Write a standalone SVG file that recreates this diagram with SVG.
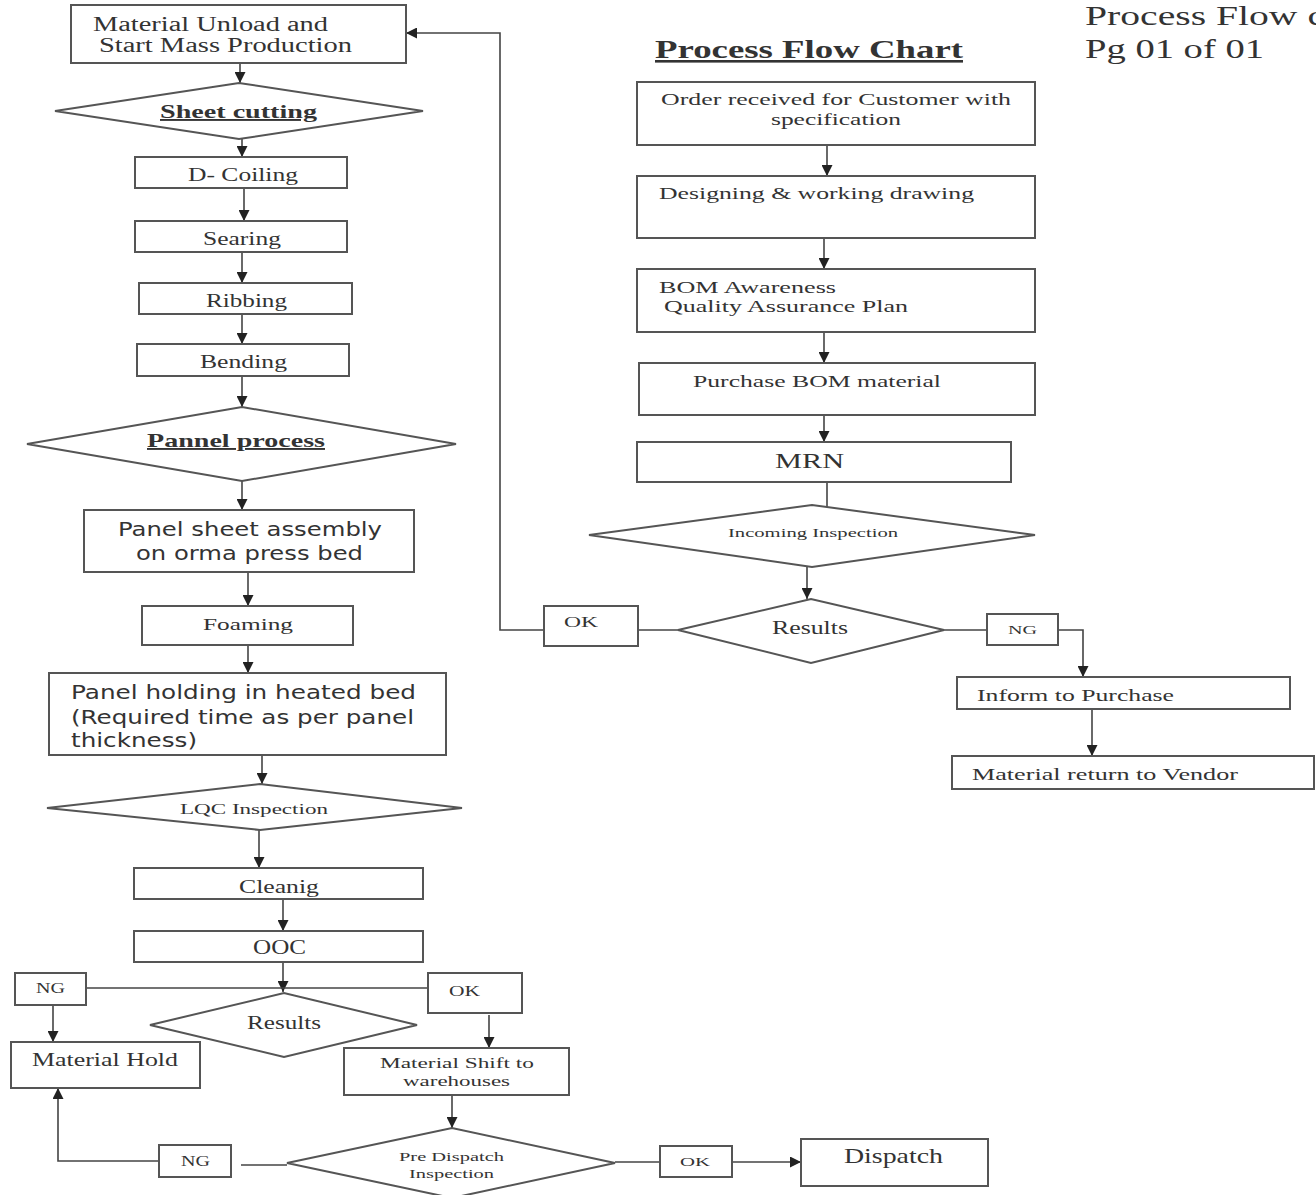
<svg xmlns="http://www.w3.org/2000/svg" width="1316" height="1195" viewBox="0 0 1316 1195">
<style>
.b{fill:#fff;stroke:#555;stroke-width:2}
.c{fill:none;stroke:#444;stroke-width:1.6}
.s{font-family:"Liberation Serif","Times New Roman",serif;fill:#333}
.v{font-family:"DejaVu Sans",Verdana,sans-serif;fill:#333}
.u{font-weight:bold;text-decoration:underline}
</style>
<defs>
<marker id="ah" markerUnits="userSpaceOnUse" markerWidth="11" markerHeight="11" refX="10" refY="5" orient="auto" viewBox="0 0 10 10">
<path d="M0,0 L10,5 L0,10 z" fill="#222"/>
</marker>
</defs>
<rect width="1316" height="1195" fill="#fff"/>

<g id="connectors">
<line class="c" x1="240" y1="63" x2="240" y2="83" marker-end="url(#ah)"/>
<line class="c" x1="242" y1="139" x2="242" y2="157" marker-end="url(#ah)"/>
<line class="c" x1="244" y1="188" x2="244" y2="221" marker-end="url(#ah)"/>
<line class="c" x1="242" y1="252" x2="242" y2="283" marker-end="url(#ah)"/>
<line class="c" x1="242" y1="314" x2="242" y2="344" marker-end="url(#ah)"/>
<line class="c" x1="242" y1="376" x2="242" y2="407" marker-end="url(#ah)"/>
<line class="c" x1="242" y1="481" x2="242" y2="510" marker-end="url(#ah)"/>
<line class="c" x1="248" y1="572" x2="248" y2="606" marker-end="url(#ah)"/>
<line class="c" x1="248" y1="645" x2="248" y2="673" marker-end="url(#ah)"/>
<line class="c" x1="262" y1="755" x2="262" y2="784" marker-end="url(#ah)"/>
<line class="c" x1="259" y1="830" x2="259" y2="868" marker-end="url(#ah)"/>
<line class="c" x1="283" y1="899" x2="283" y2="931" marker-end="url(#ah)"/>
<line class="c" x1="283" y1="962" x2="283" y2="992" marker-end="url(#ah)"/>
<line class="c" x1="86" y1="988" x2="428" y2="988"/>
<line class="c" x1="53" y1="1005" x2="53" y2="1042" marker-end="url(#ah)"/>
<line class="c" x1="489" y1="1015" x2="489" y2="1048" marker-end="url(#ah)"/>
<line class="c" x1="452" y1="1095" x2="452" y2="1128" marker-end="url(#ah)"/>
<line class="c" x1="241" y1="1165" x2="287" y2="1165"/>
<polyline class="c" points="159,1161 58,1161 58,1088" marker-end="url(#ah)"/>
<line class="c" x1="615" y1="1162" x2="660" y2="1162"/>
<line class="c" x1="732" y1="1162" x2="801" y2="1162" marker-end="url(#ah)"/>
<line class="c" x1="827" y1="145" x2="827" y2="176" marker-end="url(#ah)"/>
<line class="c" x1="824" y1="238" x2="824" y2="269" marker-end="url(#ah)"/>
<line class="c" x1="824" y1="332" x2="824" y2="363" marker-end="url(#ah)"/>
<line class="c" x1="824" y1="415" x2="824" y2="442" marker-end="url(#ah)"/>
<line class="c" x1="827" y1="482" x2="827" y2="507"/>
<line class="c" x1="807" y1="567" x2="807" y2="599" marker-end="url(#ah)"/>
<line class="c" x1="678" y1="630" x2="638" y2="630"/>
<polyline class="c" points="544,630 500,630 500,33 406,33" marker-end="url(#ah)"/>
<line class="c" x1="944" y1="630" x2="987" y2="630"/>
<polyline class="c" points="1058,630 1083,630 1083,677" marker-end="url(#ah)"/>
<line class="c" x1="1092" y1="709" x2="1092" y2="756" marker-end="url(#ah)"/>
</g>

<g id="header">
<text class="s" x="1085" y="25" font-size="27" textLength="240" lengthAdjust="spacingAndGlyphs">Process Flow c</text>
<text class="s" x="1085" y="58" font-size="27" textLength="179" lengthAdjust="spacingAndGlyphs">Pg 01 of 01</text>
<text class="s u" x="655" y="58" font-size="26" textLength="308" lengthAdjust="spacingAndGlyphs">Process Flow Chart</text>
</g>

<g id="n-unload"><rect class="b" x="71" y="5" width="335" height="58"/>
<text class="s" x="93" y="31" font-size="20" textLength="235" lengthAdjust="spacingAndGlyphs">Material Unload and</text>
<text class="s" x="99" y="52" font-size="20" textLength="253" lengthAdjust="spacingAndGlyphs">Start Mass Production</text></g>

<g id="n-sheet"><polygon class="b" points="55,111 239,83 423,111 239,139"/>
<text class="s u" x="160" y="118" font-size="19" textLength="157" lengthAdjust="spacingAndGlyphs">Sheet cutting</text></g>

<g id="n-dcoil"><rect class="b" x="135" y="157" width="212" height="31"/>
<text class="s" x="188" y="181" font-size="18" textLength="110" lengthAdjust="spacingAndGlyphs">D- Coiling</text></g>

<g id="n-searing"><rect class="b" x="135" y="221" width="212" height="31"/>
<text class="s" x="203" y="245" font-size="18" textLength="78" lengthAdjust="spacingAndGlyphs">Searing</text></g>

<g id="n-ribbing"><rect class="b" x="139" y="283" width="213" height="31"/>
<text class="s" x="206" y="307" font-size="18" textLength="81" lengthAdjust="spacingAndGlyphs">Ribbing</text></g>

<g id="n-bending"><rect class="b" x="137" y="344" width="212" height="32"/>
<text class="s" x="200" y="368" font-size="18" textLength="87" lengthAdjust="spacingAndGlyphs">Bending</text></g>

<g id="n-pannel"><polygon class="b" points="27,444 242,407 456,444 242,481"/>
<text class="s u" x="147" y="447" font-size="19" textLength="178" lengthAdjust="spacingAndGlyphs">Pannel process</text></g>

<g id="n-assembly"><rect class="b" x="84" y="510" width="330" height="62"/>
<text class="v" x="118" y="536" font-size="19" textLength="264" lengthAdjust="spacingAndGlyphs">Panel sheet assembly</text>
<text class="v" x="136" y="560" font-size="19" textLength="227" lengthAdjust="spacingAndGlyphs">on orma press bed</text></g>

<g id="n-foaming"><rect class="b" x="142" y="606" width="211" height="39"/>
<text class="s" x="203" y="630" font-size="17" textLength="90" lengthAdjust="spacingAndGlyphs">Foaming</text></g>

<g id="n-holding"><rect class="b" x="49" y="673" width="397" height="82"/>
<text class="v" x="71" y="699" font-size="19" textLength="345" lengthAdjust="spacingAndGlyphs">Panel holding in heated bed</text>
<text class="v" x="71" y="724" font-size="19" textLength="343" lengthAdjust="spacingAndGlyphs">(Required time as per panel</text>
<text class="v" x="71" y="747" font-size="19" textLength="126" lengthAdjust="spacingAndGlyphs">thickness)</text></g>

<g id="n-lqc"><polygon class="b" points="47,808 260,784 462,808 260,830"/>
<text class="s" x="180" y="814" font-size="15" textLength="148" lengthAdjust="spacingAndGlyphs">LQC Inspection</text></g>

<g id="n-cleanig"><rect class="b" x="134" y="868" width="289" height="31"/>
<text class="s" x="239" y="893" font-size="18" textLength="80" lengthAdjust="spacingAndGlyphs">Cleanig</text></g>

<g id="n-ooc"><rect class="b" x="134" y="931" width="289" height="31"/>
<text class="s" x="253" y="954" font-size="20" textLength="53" lengthAdjust="spacingAndGlyphs">OOC</text></g>

<g id="n-ng1"><rect class="b" x="15" y="973" width="71" height="32"/>
<text class="s" x="36" y="993" font-size="14" textLength="29" lengthAdjust="spacingAndGlyphs">NG</text></g>

<g id="n-ok1"><rect class="b" x="428" y="973" width="94" height="40"/>
<text class="s" x="449" y="996" font-size="15" textLength="31" lengthAdjust="spacingAndGlyphs">OK</text></g>

<g id="n-results1"><polygon class="b" points="150,1025 284,993 417,1025 284,1057"/>
<text class="s" x="247" y="1029" font-size="18" textLength="74" lengthAdjust="spacingAndGlyphs">Results</text></g>

<g id="n-hold"><rect class="b" x="11" y="1042" width="189" height="46"/>
<text class="s" x="32" y="1066" font-size="18" textLength="146" lengthAdjust="spacingAndGlyphs">Material Hold</text></g>

<g id="n-shift"><rect class="b" x="344" y="1048" width="225" height="47"/>
<text class="s" x="380" y="1068" font-size="15" textLength="154" lengthAdjust="spacingAndGlyphs">Material Shift to</text>
<text class="s" x="403" y="1086" font-size="15" textLength="107" lengthAdjust="spacingAndGlyphs">warehouses</text></g>

<g id="n-predispatch"><polygon class="b" points="287,1163 452,1128 615,1163 452,1198"/>
<text class="s" x="399" y="1161" font-size="13" textLength="105" lengthAdjust="spacingAndGlyphs">Pre Dispatch</text>
<text class="s" x="409" y="1178" font-size="13" textLength="85" lengthAdjust="spacingAndGlyphs">Inspection</text></g>

<g id="n-ng2"><rect class="b" x="159" y="1145" width="72" height="32"/>
<text class="s" x="181" y="1166" font-size="14" textLength="29" lengthAdjust="spacingAndGlyphs">NG</text></g>

<g id="n-ok2"><rect class="b" x="660" y="1146" width="72" height="31"/>
<text class="s" x="680" y="1166" font-size="13" textLength="30" lengthAdjust="spacingAndGlyphs">OK</text></g>

<g id="n-dispatch"><rect class="b" x="801" y="1139" width="187" height="47"/>
<text class="s" x="844" y="1163" font-size="21" textLength="99" lengthAdjust="spacingAndGlyphs">Dispatch</text></g>

<g id="n-order"><rect class="b" x="637" y="82" width="398" height="63"/>
<text class="s" x="661" y="105" font-size="17" textLength="350" lengthAdjust="spacingAndGlyphs">Order received for Customer with</text>
<text class="s" x="771" y="125" font-size="17" textLength="130" lengthAdjust="spacingAndGlyphs">specification</text></g>

<g id="n-design"><rect class="b" x="637" y="176" width="398" height="62"/>
<text class="s" x="659" y="199" font-size="17" textLength="315" lengthAdjust="spacingAndGlyphs">Designing &amp; working drawing</text></g>

<g id="n-bom"><rect class="b" x="637" y="269" width="398" height="63"/>
<text class="s" x="659" y="293" font-size="17" textLength="177" lengthAdjust="spacingAndGlyphs">BOM Awareness</text>
<text class="s" x="664" y="312" font-size="17" textLength="244" lengthAdjust="spacingAndGlyphs">Quality Assurance Plan</text></g>

<g id="n-purchase"><rect class="b" x="639" y="363" width="396" height="52"/>
<text class="s" x="693" y="387" font-size="17" textLength="248" lengthAdjust="spacingAndGlyphs">Purchase BOM material</text></g>

<g id="n-mrn"><rect class="b" x="637" y="442" width="374" height="40"/>
<text class="s" x="775" y="468" font-size="22" textLength="69" lengthAdjust="spacingAndGlyphs">MRN</text></g>

<g id="n-incoming"><polygon class="b" points="589,535 812,505 1035,535 812,567"/>
<text class="s" x="728" y="537" font-size="13" textLength="170" lengthAdjust="spacingAndGlyphs">Incoming Inspection</text></g>

<g id="n-results2"><polygon class="b" points="678,630 811,599 944,630 811,663"/>
<text class="s" x="772" y="634" font-size="18" textLength="76" lengthAdjust="spacingAndGlyphs">Results</text></g>

<g id="n-ok3"><rect class="b" x="544" y="606" width="94" height="40"/>
<text class="s" x="564" y="627" font-size="14" textLength="34" lengthAdjust="spacingAndGlyphs">OK</text></g>

<g id="n-ng3"><rect class="b" x="987" y="614" width="71" height="31"/>
<text class="s" x="1008" y="634" font-size="13" textLength="29" lengthAdjust="spacingAndGlyphs">NG</text></g>

<g id="n-inform"><rect class="b" x="957" y="677" width="333" height="32"/>
<text class="s" x="977" y="701" font-size="17" textLength="197" lengthAdjust="spacingAndGlyphs">Inform to Purchase</text></g>

<g id="n-return"><rect class="b" x="952" y="756" width="362" height="33"/>
<text class="s" x="972" y="780" font-size="17" textLength="266" lengthAdjust="spacingAndGlyphs">Material return to Vendor</text></g>
</svg>
